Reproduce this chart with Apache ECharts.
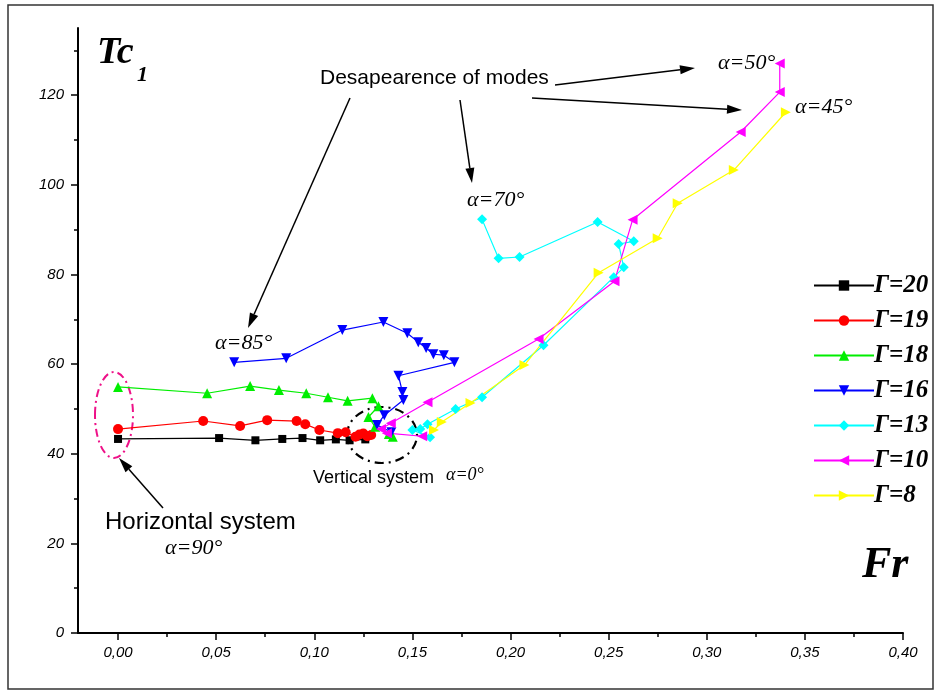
<!DOCTYPE html>
<html>
<head>
<meta charset="utf-8">
<script src="https://cdn.jsdelivr.net/npm/echarts@6/dist/echarts.min.js"></script>
<style>html,body{margin:0;padding:0;background:#fff}#c{width:937px;height:692px}</style>
</head>
<body>
<div id="c"></div>
<script>
// ---- data ----
const seriesNames = ['Γ=20', 'Γ=19', 'Γ=18', 'Γ=16', 'Γ=13', 'Γ=10', 'Γ=8'];

const fr20 = [0.000, 0.0515, 0.070, 0.0837, 0.094, 0.103, 0.111, 0.118, 0.126];
const tc20 = [43.3, 43.5, 43.0, 43.3, 43.5, 43.0, 43.2, 43.0, 43.2];

const fr19 = [0.000, 0.0434, 0.0622, 0.076, 0.091, 0.0954, 0.1026, 0.112, 0.116, 0.121, 0.123, 0.125, 0.127, 0.129];
const tc19 = [45.5, 47.3, 46.2, 47.5, 47.3, 46.6, 45.3, 44.6, 44.8, 43.8, 44.3, 44.5, 43.9, 44.2];

const fr18 = [0.000, 0.0454, 0.0673, 0.082, 0.0959, 0.107, 0.117, 0.1296, 0.1327, 0.1276, 0.131, 0.138, 0.140];
const tc18 = [54.9, 53.5, 55.1, 54.2, 53.5, 52.6, 51.8, 52.4, 50.6, 48.2, 46.0, 44.4, 43.8];

const fr16 = [0.0592, 0.0857, 0.1143, 0.1352, 0.1474, 0.153, 0.157, 0.1607, 0.166, 0.1714, 0.1429, 0.1449, 0.1454, 0.1357, 0.132, 0.1393];
const tc16 = [60.4, 61.3, 67.6, 69.4, 66.9, 64.9, 63.6, 62.2, 62.0, 60.4, 57.4, 53.8, 52.0, 48.6, 46.4, 44.8];

const fr13 = [0.1855, 0.1939, 0.2046, 0.2444, 0.2628, 0.2551, 0.2577, 0.2526, 0.2168, 0.1855, 0.172, 0.1577, 0.154, 0.150, 0.159];
const tc13 = [92.3, 83.6, 83.9, 91.7, 87.4, 86.8, 81.6, 79.4, 64.2, 52.6, 50.0, 46.6, 45.5, 45.3, 43.7];

const fr10 = [0.3372, 0.3372, 0.3173, 0.2622, 0.253, 0.2143, 0.1577, 0.139, 0.134, 0.137, 0.155];
const tc10 = [127.1, 120.7, 111.8, 92.2, 78.5, 65.6, 51.5, 46.8, 45.5, 44.6, 43.9];

const fr8 = [0.3403, 0.3138, 0.2852, 0.275, 0.2449, 0.2071, 0.1796, 0.165, 0.161];
const tc8 = [116.2, 103.3, 95.9, 88.1, 80.4, 59.8, 51.3, 47.1, 45.3];

const xMajorTicks = [0.00, 0.05, 0.10, 0.15, 0.20, 0.25, 0.30, 0.35, 0.40];
const xMinorTicks = [0.025, 0.075, 0.125, 0.175, 0.225, 0.275, 0.325, 0.375];
const yMajorTicks = [0, 20, 40, 60, 80, 100, 120];
const yMinorTicks = [10, 30, 50, 70, 90, 110, 130];

// ---- styles ----
const colors = ['#000000', '#ff0000', '#00ee00', '#0000ff', '#00ffff', '#ff00ff', '#ffff00'];
const symbols = ['rect', 'circle', 'triangle', 'triangle', 'diamond', 'triangle', 'triangle'];
const rotations = [0, 0, 0, 180, 0, 90, -90];
const sizes = [8, 10, 10, 10, 10, 10, 10];
const frs = [fr20, fr19, fr18, fr16, fr13, fr10, fr8];
const tcs = [tc20, tc19, tc18, tc16, tc13, tc10, tc8];

const series = seriesNames.map((n, i) => ({
  name: n,
  type: 'line',
  data: frs[i].map((f, j) => [f, tcs[i][j]]),
  symbol: symbols[i],
  symbolRotate: rotations[i],
  symbolSize: sizes[i],
  showAllSymbol: true,
  animation: false,
  lineStyle: { color: colors[i], width: 1.2 },
  itemStyle: { color: colors[i] },
  emphasis: { disabled: true }
}));

const fmt = v => v.toFixed(2).replace('.', ',');
const axisFont = { fontFamily: 'Liberation Sans', fontStyle: 'italic', fontSize: 15, color: '#000' };

const chart = echarts.init(document.getElementById('c'), null, { renderer: 'canvas' });
const option = {
  backgroundColor: '#fff',
  animation: false,
  grid: { left: 78, right: 34, top: 28, bottom: 59 },
  xAxis: [{
    type: 'value', min: -0.0204, max: 0.40,
    axisLine: { show: true, onZero: false, lineStyle: { color: '#000', width: 2 } },
    axisTick: { show: true, length: 7, lineStyle: { color: '#000', width: 1.5 }, customValues: xMajorTicks },
    axisLabel: { ...axisFont, margin: 12, formatter: fmt, customValues: xMajorTicks },
    splitLine: { show: false }
  }, {
    type: 'value', min: -0.0204, max: 0.40, position: 'bottom',
    axisLine: { show: false, onZero: false },
    axisTick: { show: true, length: 4, lineStyle: { color: '#000', width: 1.5 }, customValues: xMinorTicks },
    axisLabel: { show: false },
    splitLine: { show: false }
  }],
  yAxis: [{
    type: 'value', min: 0, max: 135,
    axisLine: { show: true, onZero: false, lineStyle: { color: '#000', width: 2 } },
    axisTick: { show: true, length: 7, lineStyle: { color: '#000', width: 1.5 }, customValues: yMajorTicks },
    axisLabel: { ...axisFont, margin: 14, customValues: yMajorTicks },
    splitLine: { show: false }
  }, {
    type: 'value', min: 0, max: 135, position: 'left',
    axisLine: { show: false, onZero: false },
    axisTick: { show: true, length: 4, lineStyle: { color: '#000', width: 1.5 }, customValues: yMinorTicks },
    axisLabel: { show: false },
    splitLine: { show: false }
  }],
  legend: {
    data: seriesNames,
    orient: 'vertical',
    left: 808, top: 268,
    itemWidth: 60, itemHeight: 13, itemGap: 10,
    textStyle: { fontFamily: 'Liberation Serif', fontStyle: 'italic', fontWeight: 'bold', fontSize: 25, color: '#000', padding: [0, 0, 0, -5] },
    selectedMode: false
  },
  series: series
};
chart.setOption(option);

// ---- annotations (pixel layout) ----
function arrow(x1, y1, x2, y2) {
  const L = 15, W = 4.5;
  const dx = x2 - x1, dy = y2 - y1, d = Math.hypot(dx, dy);
  const ux = dx / d, uy = dy / d;
  const bx = x2 - ux * L, by = y2 - uy * L;
  return [
    { type: 'line', shape: { x1, y1, x2: bx, y2: by }, style: { stroke: '#000', lineWidth: 1.5 }, silent: true },
    { type: 'polygon', shape: { points: [[x2, y2], [bx - uy * W, by + ux * W], [bx + uy * W, by - ux * W]] }, style: { fill: '#000' }, silent: true }
  ];
}
function txt(text, x, y, font, align) {
  return { type: 'text', x, y, silent: true, style: { text, font, fill: '#000', textAlign: align || 'left', textVerticalAlign: 'middle' } };
}
const serifIt = 'italic 22px "Liberation Serif"';
const graphics = [
  { type: 'rect', shape: { x: 8, y: 5, width: 925, height: 684 }, style: { fill: 'none', stroke: '#333', lineWidth: 1.5 }, silent: true },
  txt('Tc', 97, 53, 'italic bold 38px "Liberation Serif"'),
  txt('1', 137, 75, 'italic bold 22px "Liberation Serif"'),
  txt('Fr', 862, 566, 'italic bold 44px "Liberation Serif"'),
  txt('Desapearence of modes', 320, 78, '21px "Liberation Sans"'),
  txt('α=50°', 718, 63, serifIt),
  txt('α=45°', 795, 107, serifIt),
  txt('α=70°', 467, 200, serifIt),
  txt('α=85°', 215, 343, serifIt),
  txt('Vertical system', 313, 478, '18px "Liberation Sans"'),
  txt('α=0°', 446, 475, 'italic 18px "Liberation Serif"'),
  txt('Horizontal system', 105, 522, '24px "Liberation Sans"'),
  txt('α=90°', 165, 548, serifIt),
  { type: 'ellipse', shape: { cx: 382, cy: 435, rx: 35, ry: 28 }, style: { fill: 'none', stroke: '#000', lineWidth: 2.2, lineDash: [9, 5, 2, 5] }, silent: true },
  { type: 'ellipse', shape: { cx: 114, cy: 415, rx: 19, ry: 43 }, style: { fill: 'none', stroke: '#ee1188', lineWidth: 2, lineDash: [8, 4, 2, 4] }, silent: true },
  ...arrow(555, 85, 695, 68),
  ...arrow(532, 98, 742, 110),
  ...arrow(460, 100, 472, 183),
  ...arrow(350, 98, 248, 328),
  ...arrow(163, 508, 119, 458)
];
chart.setOption({ graphic: graphics });
</script>
</body>
</html>
